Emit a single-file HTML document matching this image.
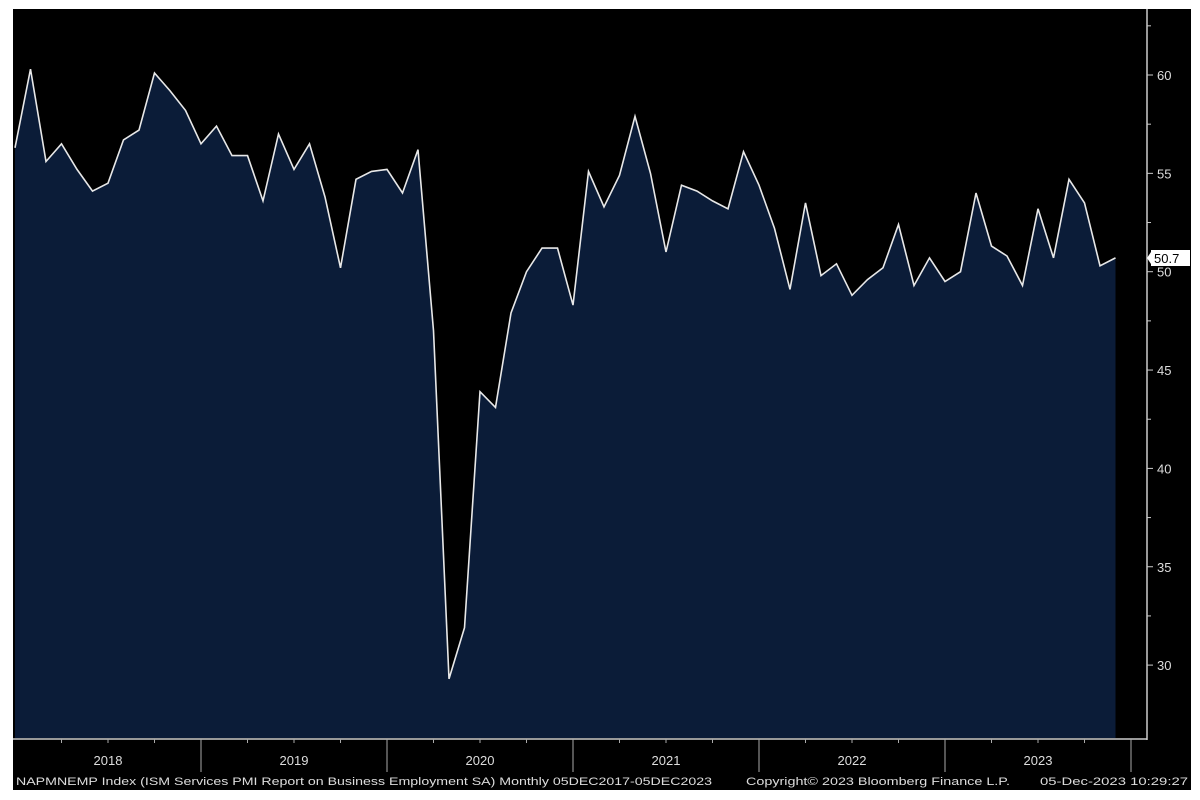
<!DOCTYPE html>
<html><head><style>
body{margin:0;background:#fff;}
svg{display:block;font-family:"Liberation Sans",sans-serif;}
</style></head><body>
<svg id="s" width="1200" height="800" xmlns="http://www.w3.org/2000/svg">
<rect x="0" y="0" width="1200" height="800" fill="#fff"/>
<rect x="13" y="9" width="1178" height="781" fill="#000"/>
<path id="area" fill="#0b1c38" stroke="none"/>
<polyline id="line" fill="none" stroke="#e8e8e8" stroke-width="1.6"/>
<line x1="1147" y1="9" x2="1147" y2="740" stroke="#ccc" stroke-width="1.5"/>
<line x1="13" y1="739" x2="1147" y2="739" stroke="#ccc" stroke-width="1.5"/>
<g id="yt" fill="#ddd" font-size="13"></g>
<g id="xt" fill="#ddd" font-size="13"></g>
<rect x="1151" y="250" width="39" height="16" fill="#fff"/>
<polygon points="1147,258 1151,252 1151,264" fill="#fff"/>
<text x="1154" y="263" font-size="13" fill="#000">50.7</text>
<text x="16" y="785" font-size="11" fill="#ddd" textLength="696" lengthAdjust="spacingAndGlyphs">NAPMNEMP Index (ISM Services PMI Report on Business Employment SA)  Monthly 05DEC2017-05DEC2023</text>
<text x="746" y="785" font-size="11" fill="#ddd" textLength="264" lengthAdjust="spacingAndGlyphs">Copyright© 2023 Bloomberg Finance L.P.</text>
<text x="1040" y="785" font-size="11" fill="#ddd" textLength="148" lengthAdjust="spacingAndGlyphs">05-Dec-2023 10:29:27</text>
</svg>
<script>
var d=[56.3,60.3,55.6,56.5,55.2,54.1,54.5,56.7,57.2,60.1,59.2,58.2,56.5,57.4,55.9,55.9,53.6,57.0,55.2,56.5,53.8,50.2,54.7,55.1,55.2,54.0,56.2,47.0,29.3,31.9,43.9,43.1,47.9,50.0,51.2,51.2,48.3,55.1,53.3,54.9,57.9,55.0,51.0,54.4,54.1,53.6,53.2,56.1,54.4,52.2,49.1,53.5,49.8,50.4,48.8,49.6,50.2,52.4,49.3,50.7,49.5,50.0,54.0,51.3,50.8,49.3,53.2,50.7,54.7,53.5,50.3,50.7];
function Y(v){return 75+(60-v)*19.67;}
function X(i){return 15+i*15.5;}
var pts=d.map(function(v,i){return X(i).toFixed(1)+","+Y(v).toFixed(1);});
document.getElementById("line").setAttribute("points",pts.join(" "));
document.getElementById("area").setAttribute("d","M"+X(0)+",738 L"+pts.join(" L")+" L"+X(71)+",738 Z");
var ns="http://www.w3.org/2000/svg",yt=document.getElementById("yt"),xt=document.getElementById("xt");
function el(t,a,p,txt){var e=document.createElementNS(ns,t);for(var k in a)e.setAttribute(k,a[k]);if(txt)e.textContent=txt;p.appendChild(e);return e;}
for(var v=30;v<=62.5;v+=2.5){var y=Y(v);var maj=(v%5==0);
el("line",{x1:1147,x2:maj?1153:1151,y1:y,y2:y,stroke:"#ccc"},yt);
if(maj)el("text",{x:1157,y:y+5},yt,String(v));}
var yrs=["2018","2019","2020","2021","2022","2023"];
for(var k=0;k<6;k++){var x0=15+k*186;
if(k>0)el("line",{x1:x0,x2:x0,y1:739,y2:772,stroke:"#aaa"},xt);
for(var m=1;m<4;m++)el("line",{x1:x0+m*46.5,x2:x0+m*46.5,y1:739,y2:743,stroke:"#aaa"},xt);
el("text",{x:x0+93,y:765,"text-anchor":"middle"},xt,yrs[k]);}
el("line",{x1:1131,x2:1131,y1:739,y2:772,stroke:"#aaa"},xt);
</script>
</body></html>
